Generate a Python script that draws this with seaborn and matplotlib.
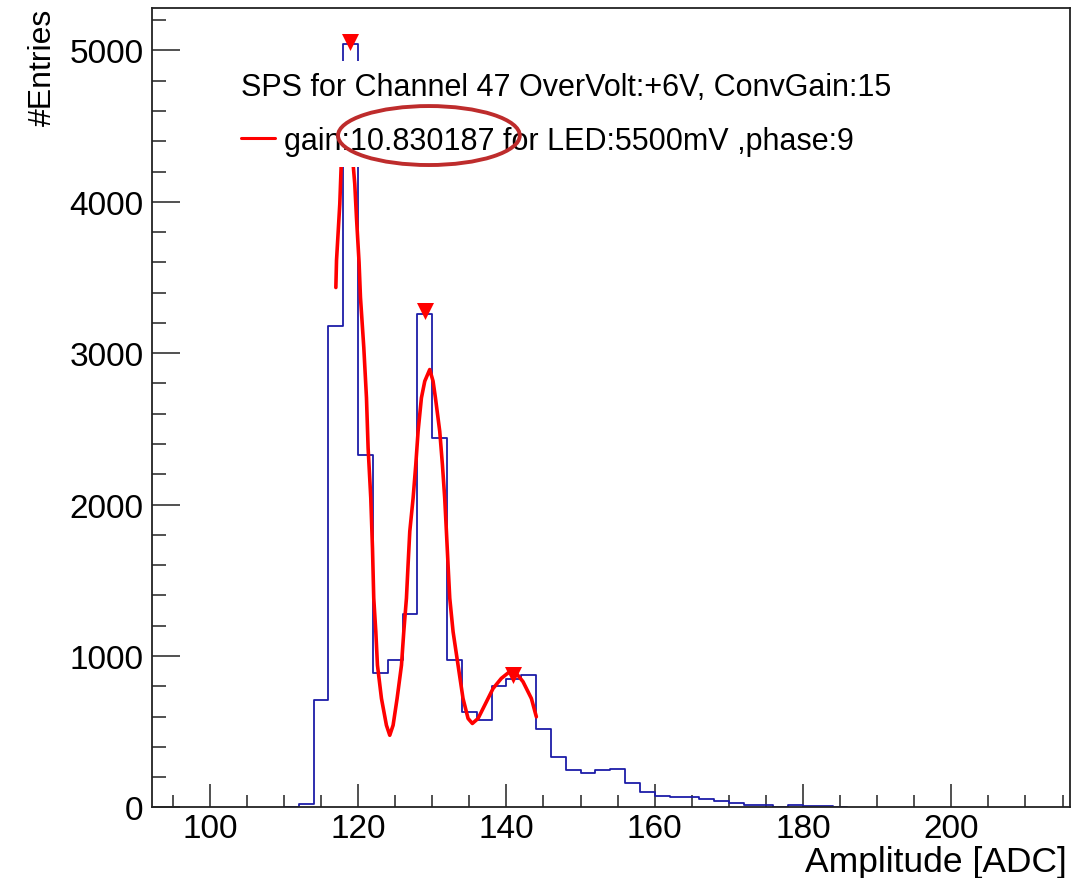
import numpy as np
import pandas as pd
import matplotlib
matplotlib.use("Agg")
import matplotlib.pyplot as plt
from matplotlib.patches import Ellipse
from matplotlib.ticker import MultipleLocator
import seaborn as sns

# ---------------- data ----------------
bin_start = 110
bin_width = 2
counts = [0, 25, 710, 3180, 5040, 2330, 890, 970, 1280, 3260,
          2440, 970, 630, 580, 800, 850, 875, 515, 333, 246,
          230, 247, 256, 163, 101, 75, 68, 68, 57, 42,
          31, 15, 15, 0, 13, 8, 8, 0]

fit_x = [117.00, 117.09, 117.53, 117.76, 118.50, 119.25, 119.55, 119.78, 120.13,
         120.32, 120.77, 121.13, 121.35, 121.71, 121.94, 122.11, 122.39, 122.61,
         123.15, 123.82, 124.27, 124.72, 125.26, 125.85, 126.16, 126.52, 126.74,
         126.97, 127.42, 127.78, 128.09, 128.54, 128.99, 129.66, 130.11, 130.43,
         131.01, 131.37, 131.68, 131.91, 132.13, 132.36, 132.81, 133.48, 134.15,
         134.83, 135.41, 136.18, 137.08, 138.20, 139.32, 140.44, 141.34, 142.24,
         143.37, 144.04]
fit_y = [3434, 3613, 3985, 4295, 4700, 4295, 4118, 3897, 3600,
         3368, 3036, 2705, 2374, 2043, 1712, 1382, 1160, 939,
         719, 542, 476, 542, 719, 939, 1160, 1382, 1603,
         1823, 2043, 2264, 2484, 2705, 2815, 2892, 2815, 2705,
         2484, 2264, 2043, 1823, 1603, 1382, 1160, 939, 719,
         587, 554, 587, 675, 785, 852, 896, 885, 830,
         719, 598]

peak_x = [118.97, 128.99, 140.89]
peak_y = [5056, 3279, 873]

x_ticks = [100, 120, 140, 160, 180, 200]
y_ticks = [0, 1000, 2000, 3000, 4000, 5000]

legend_title = "SPS for Channel 47 OverVolt:+6V, ConvGain:15"
legend_label = "gain:10.830187 for LED:5500mV ,phase:9"
x_label = "Amplitude [ADC]"
y_label = "#Entries"

# ---------------- style ----------------
sns.set_style("white")
plt.rcParams['font.family'] = ['Liberation Sans', 'DejaVu Sans']
plt.rcParams['text.color'] = 'black'
plt.rcParams['axes.labelcolor'] = 'black'
plt.rcParams['xtick.color'] = 'black'
plt.rcParams['ytick.color'] = 'black'

edges = [bin_start + bin_width * i for i in range(len(counts) + 1)]
hist_df = pd.DataFrame({"amp": [e + bin_width / 2 for e in edges[:-1]], "n": counts})
fit_df = pd.DataFrame({"x": fit_x, "y": fit_y})

fig = plt.figure(figsize=(10.87, 8.79), dpi=100)
ax = fig.add_axes([0.1398, 0.0804, 0.8445, 0.9093])

sns.histplot(data=hist_df, x="amp", weights="n", bins=edges, element="step",
             fill=False, color="#1c1ca8", linewidth=1.3, ax=ax, zorder=2)

sns.lineplot(data=fit_df, x="x", y="y", sort=False, color="red", linewidth=2.6,
             ax=ax, zorder=3, label=legend_label, estimator=None)

ax.scatter(peak_x, peak_y, marker="v", s=150, color="red", zorder=4,
           linewidths=0)

ax.set_xlim(92.2, 216.0)
ax.set_ylim(0, 5280)

ax.set_xticks(x_ticks)
ax.set_yticks(y_ticks)
ax.xaxis.set_minor_locator(MultipleLocator(5))
ax.yaxis.set_minor_locator(MultipleLocator(200))

spine_col = "#222222"
for s in ax.spines.values():
    s.set_visible(True)
    s.set_color(spine_col)
    s.set_linewidth(1.3)

ax.tick_params(axis="x", which="major", direction="in", length=16.5, width=1.1,
               color=spine_col, labelcolor="black", labelsize=24, pad=4,
               top=False, bottom=True)
ax.tick_params(axis="x", which="minor", direction="in", length=8.6, width=1.1,
               color=spine_col, top=False, bottom=True)
ax.tick_params(axis="y", which="major", direction="in", length=20, width=1.1,
               color=spine_col, labelcolor="black", labelsize=24, pad=6,
               left=True, right=False)
ax.tick_params(axis="y", which="minor", direction="in", length=10, width=1.1,
               color=spine_col, left=True, right=False)

ax.set_xlabel(x_label, fontsize=25.5, ha="right", va="baseline", color="black")
ax.xaxis.set_label_coords(0.9964, -0.0794)
ax.set_ylabel(y_label, fontsize=23, loc="top", color="black")
ax.yaxis.set_label_coords(-0.1024, 1.0)

leg = ax.legend(title=legend_title, loc="upper left",
                bbox_to_anchor=(0.085, 0.9334), borderaxespad=0,
                fontsize=22, title_fontsize=22, alignment="left",
                frameon=True, framealpha=1.0, facecolor="white",
                edgecolor="none", fancybox=False, borderpad=0.35,
                labelspacing=0.78, handlelength=1.12, handletextpad=0.3)
leg.get_frame().set_linewidth(0)
leg.get_title().set_color("black")
for t in leg.get_texts():
    t.set_color("black")
for line in leg.get_lines():
    line.set_linewidth(2.2)

ell = Ellipse((0.3017, 0.8405), 0.198, 0.0738, transform=ax.transAxes,
              fill=False, edgecolor="#be2c2c", linewidth=2.8, zorder=10)
ax.add_patch(ell)

fig.savefig("out.png", dpi=100)
